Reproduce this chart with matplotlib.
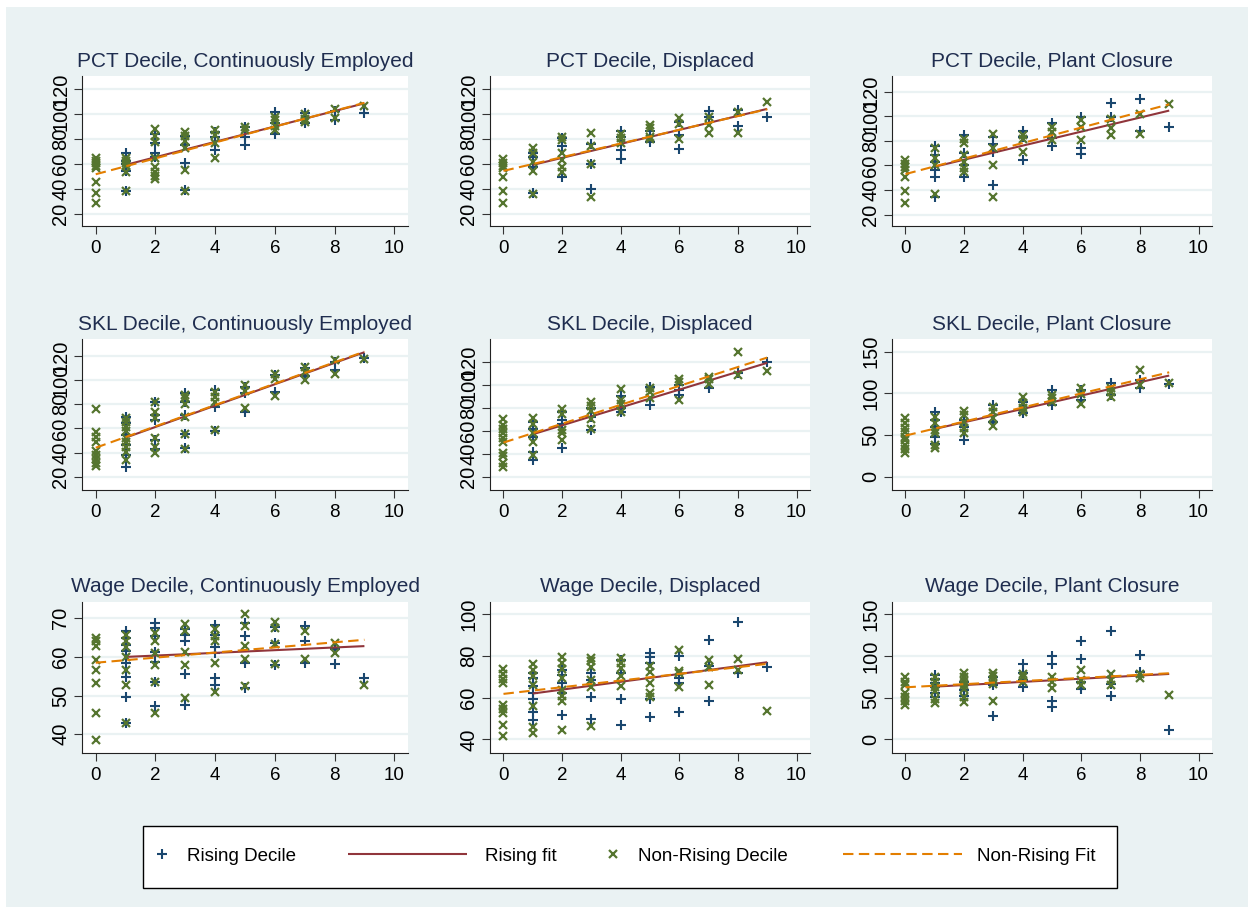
import numpy as np
import matplotlib
matplotlib.use("Agg")
import matplotlib.pyplot as plt
from matplotlib.lines import Line2D
from matplotlib.patches import Rectangle

plt.rcParams['font.family'] = ['Liberation Sans', 'DejaVu Sans']

# ---------------- data ----------------
titles = ["PCT Decile, Continuously Employed", "PCT Decile, Displaced", "PCT Decile, Plant Closure",
          "SKL Decile, Continuously Employed", "SKL Decile, Displaced", "SKL Decile, Plant Closure",
          "Wage Decile, Continuously Employed", "Wage Decile, Displaced", "Wage Decile, Plant Closure"]

x_ticks = [0, 2, 4, 6, 8, 10]

# y values grouped by decile (list index = decile 0..9)
pct_ce_rising = [[], [69, 63, 60, 55, 39], [84, 77, 69, 66], [83, 75.5, 61, 39.5], [86, 82, 71.5],
                 [90, 82, 75.5], [102, 92.8, 84.3], [101, 93], [102.7, 95.5], [101.3]]
pct_ce_nonrising = [[64.8, 63, 61, 59, 57, 46, 37, 29], [65, 63, 61, 59, 54, 39], [88, 83, 78, 65, 58, 54, 51, 48],
                    [86, 83, 79, 72.8, 55.5, 39], [87.5, 83.5, 77, 65], [89.6, 87.5], [98, 95.5, 90.7, 87.5],
                    [100, 96, 94], [104, 96.8], [107]]

pct_d_rising = [[], [68.8, 65.6, 58, 36.8], [81.3, 74.7, 50], [76, 60, 40], [87, 82, 71.5, 64.3], [87, 78],
                [94, 83.5, 72], [103, 98], [103.5, 90.7], [98]]
pct_d_nonrising = [[64.3, 60.8, 58.7, 56.8, 50, 39, 28.8], [72.8, 68.8, 62, 55, 36.3], [82, 79.5, 68.8, 63.5, 58, 54],
                   [85.3, 74.7, 60, 34], [84, 80.8, 76.8], [91.5, 88.8, 82, 80], [96.8, 92.3, 80], [98, 91.5, 84.8],
                   [102, 85.3], [110]]

pct_pc_rising = [[], [75.8, 68.5, 63, 56.3, 50.9, 34.6], [84.8, 69.9, 60.4, 50.9], [83.4, 77.5, 71.2, 44.1],
                 [88.3, 83.4, 64.4], [94.8, 82, 75.8], [99.7, 74, 69.3], [110.5, 99.7], [113.8, 88.3], [91]]
pct_pc_nonrising = [[64.4, 61.2, 58.5, 56.3, 50.4, 39.2, 29.2], [74, 65.8, 60.4, 36.8], [81.2, 78, 68.5, 63, 57.7, 55],
                    [85.6, 74, 60.4, 34.6], [84.8, 81.2, 71.2], [91, 87.5, 80.7], [97, 91, 80.7], [97.5, 90.2, 84.8],
                    [101.8, 85.6], [110]]

skl_ce_rising = [[], [69.7, 64.2, 54.5, 46.2, 38, 28.3], [82.2, 71.1, 67, 50.4, 43], [89, 82.2, 71.1, 55, 43.5],
                 [91.8, 78, 57.8], [94.6, 89, 73.3], [104.3, 90.4], [109.8, 103.7], [114.8, 108.4], [118]]
skl_ce_nonrising = [[76, 57, 53, 49, 41, 38, 35, 31, 29], [68.3, 65.6, 61.4, 57.8, 52.3, 49, 44.9, 40.7, 33.8],
                    [82.2, 73.9, 68.3, 51.8, 44.9, 39.3], [87.7, 84.9, 80, 69.7, 55, 43], [89.9, 86.3, 82.2, 58.7],
                    [96, 91, 77.2], [104.8, 101, 87.1], [111, 107, 100], [116.7, 104.8], [117.5]]

skl_d_rising = [[], [68.1, 61.8, 55.2, 42.2, 35], [76.8, 69.6, 65.8, 45.6], [79.7, 72.5, 61], [90.6, 79.7, 76.8],
                [98.4, 82.5], [100, 95.5, 91.2], [97], [110], [119.4]]
skl_d_nonrising = [[70.4, 65.2, 61.8, 58, 54.3, 50.3, 40.7, 38.7, 32, 29.2], [71, 65.8, 58, 50.8, 39.3],
                   [79, 74.5, 61, 58, 52.3], [85.4, 82, 77.3, 70.4, 61.8], [96.4, 86.9, 83, 76.8], [97, 93.5, 88.3],
                   [105, 102.1, 86.9], [107, 105, 100.4], [128.6, 108.5], [111.9]]

skl_pc_rising = [[], [77.2, 68, 60, 48, 38.8], [68, 60, 44], [86, 65.2], [90, 76], [104, 86], [104, 92],
                 [112, 98], [116, 106], [110.8]]
skl_pc_nonrising = [[70, 64, 58.8, 54, 48, 44, 38, 33.2, 28], [72, 64, 56, 52, 38, 34.8], [78.8, 74, 66, 58, 52],
                    [84, 78, 70, 61.2], [96, 88, 82, 78], [98, 94, 89.2], [106, 98.8, 86.8], [106, 101.2, 96],
                    [128, 110], [112]]

wage_ce_rising = [[], [66.8, 64.8, 63.1, 61.6, 58.5, 54.7, 49.7, 43], [68.7, 67.4, 65.3, 61.4, 58.8, 53.6, 47.2],
                  [67.2, 65.7, 64, 55.6, 47.6], [68.3, 65.7, 62.5, 61.1, 54.5, 52.8], [68.9, 65.4, 58.4, 51.9],
                  [67.8, 63.7, 57.9], [68, 64, 58.5], [62, 58.2], [54.5]]
wage_ce_nonrising = [[64.8, 64.2, 62.7, 59.2, 56.6, 53.2, 45.6, 38.5], [65.7, 64, 62.5, 60, 56.6, 52.8, 43],
                     [66.1, 64, 61.1, 57.9, 53.4, 45.6], [68.5, 66.6, 61.4, 57.9, 49.3], [67.2, 65.4, 64.2, 58.5, 51],
                     [71.1, 68, 62.8, 59.4, 52.5], [69.1, 67.4, 63.4, 58.2], [66.6, 59.4], [63.5, 60.9], [52.8]]

wage_d_rising = [[], [71.7, 69.3, 65.6, 62, 59.2, 53.3, 49.3], [73.3, 70.9, 66.9, 62, 51.7], [72, 68.5, 60.2, 49.6],
                 [78.1, 71.7, 59.2, 46.9], [81.6, 79.4, 76.8, 59.2, 50.9], [80, 69.3, 66.9, 53.3], [87.7, 75.2, 58.6],
                 [96.5, 71.7], [74.9]]
wage_d_nonrising = [[73.6, 71.4, 68.8, 66.9, 56.5, 54.4, 52.8, 46.9, 41.8], [76.2, 73.3, 70.4, 66.1, 56, 45.8, 43.2],
                    [79.4, 76.5, 73.6, 69.3, 63.7, 60.8, 58.6, 44.5], [78.9, 77.8, 74.9, 68.5, 65, 46.4],
                    [78.9, 76.5, 74.1, 70.4, 65.6], [75.2, 72.5, 66.9, 62.4, 60.5], [82.9, 73, 71.7, 65],
                    [78.1, 74.6, 66.1], [78.4, 73.3], [53.6]]

wage_pc_rising = [[], [77.2, 72, 67.2, 62.4, 56, 51.2], [69.2, 65.2, 59.2, 52], [74.4, 65.2, 28],
                  [90.4, 79.2, 71.2, 62.4], [100, 90.4, 46.4, 39.2], [118.4, 96, 69.2, 60], [130.4, 66.4, 52],
                  [101.2, 81.2], [11.2]]
wage_pc_nonrising = [[74.4, 69.2, 65.2, 56, 51.2, 46.4, 41.2], [75.2, 69.2, 63.2, 58.4, 48, 43.2],
                     [80, 75.2, 70.4, 65.2, 60, 50.4, 45.2], [80, 76, 71.2, 66.4, 46.4], [78.4, 74.4, 69.2],
                     [75.2, 69.2, 61.2], [83.2, 71.2, 65.2], [78.4, 71.2, 65.2], [78.4, 73.2], [53.2]]

# linear fit lines (intercept, slope), rising over deciles 1-9, non-rising over 0-9
rising_fit_intercept = [53.3, 53.9, 53.3, 43.5, 49.5, 49.2, 59.65, 60.1, 61.3]
rising_fit_slope = [6.16, 5.6, 5.7, 8.84, 7.72, 8.0, 0.35, 1.875, 1.9]
nonrising_fit_intercept = [52.0, 54.7, 53.0, 44.0, 50.0, 49.2, 58.5, 61.8, 62.4]
nonrising_fit_slope = [6.35, 5.48, 6.3, 8.84, 8.17, 8.43, 0.66, 1.6, 1.87]
rising_fit_range = [1, 9]
nonrising_fit_range = [0, 9]

y_ticks = [[20, 40, 60, 80, 100, 120]] * 5 + [[0, 50, 100, 150], [40, 50, 60, 70], [40, 60, 80, 100], [0, 50, 100, 150]]
y_limits = [(10.6, 130.6), (10.6, 130.6), (10.8, 132.7), (9, 134), (9, 139.6), (-16, 165),
            (35.2, 74.3), (33.6, 106), (-16, 165)]

rising_sets = [pct_ce_rising, pct_d_rising, pct_pc_rising, skl_ce_rising, skl_d_rising, skl_pc_rising,
               wage_ce_rising, wage_d_rising, wage_pc_rising]
nonrising_sets = [pct_ce_nonrising, pct_d_nonrising, pct_pc_nonrising, skl_ce_nonrising, skl_d_nonrising,
                  skl_pc_nonrising, wage_ce_nonrising, wage_d_nonrising, wage_pc_nonrising]

legend_labels = ["Rising Decile", "Rising fit", "Non-Rising Decile", "Non-Rising Fit"]

# ---------------- style ----------------
NAVY = "#1a476f"
MAROON = "#90353b"
GREEN = "#55752f"
ORANGE = "#e37e00"
BG = "#eaf2f3"
TITLE_C = "#1f2d4f"

W, H = 1254, 914
fig = plt.figure(figsize=(W / 100, H / 100), dpi=100)
fig.patch.set_facecolor("white")
fig.add_artist(Rectangle((6 / W, 7 / H), (W - 12) / W, (H - 14) / H, transform=fig.transFigure,
                         facecolor=BG, edgecolor="none", zorder=-10))

col_left = [82, 490, 892]
col_width = [326, 320, 320]
row_top = [76, 339, 601.7]
row_height = [150, 151, 151]

plus_kw = dict(ls="none", marker="+", color=NAVY, ms=7.2, mew=1.5)
x_kw = dict(ls="none", marker="x", color=GREEN, ms=5.6, mew=1.6)
rfit_kw = dict(color=MAROON, lw=1.5, solid_capstyle="butt")
nfit_kw = dict(color=ORANGE, lw=1.5, dashes=(5, 2.6), dash_capstyle="butt")


def flatten(groups):
    xs, ys = [], []
    for d, vals in enumerate(groups):
        for v in vals:
            xs.append(d)
            ys.append(v)
    return np.array(xs), np.array(ys)


for i in range(9):
    r, c = divmod(i, 3)
    left = col_left[c] / W
    bottom = (H - row_top[r] - row_height[r]) / H
    ax = fig.add_axes([left, bottom, col_width[c] / W, row_height[r] / H])
    ax.set_facecolor("white")

    xr, yr = flatten(rising_sets[i])
    xn, yn = flatten(nonrising_sets[i])
    ax.plot(xr, yr, zorder=3, **plus_kw)
    xfr = np.array(rising_fit_range, dtype=float)
    ax.plot(xfr, rising_fit_intercept[i] + rising_fit_slope[i] * xfr, zorder=4, **rfit_kw)
    ax.plot(xn, yn, zorder=5, **x_kw)
    xfn = np.array(nonrising_fit_range, dtype=float)
    ax.plot(xfn, nonrising_fit_intercept[i] + nonrising_fit_slope[i] * xfn, zorder=6, **nfit_kw)

    ax.set_xlim(-0.46, 10.46)
    ax.set_ylim(*y_limits[i])
    ax.set_xticks(x_ticks)
    ax.set_yticks(y_ticks[i])
    ax.yaxis.grid(True, color=BG, lw=1.6)
    ax.set_axisbelow(True)
    for s in ("top", "right"):
        ax.spines[s].set_visible(False)
    for s in ("left", "bottom"):
        ax.spines[s].set_color("#222222")
        ax.spines[s].set_linewidth(0.8)
    ax.tick_params(axis="both", direction="out", length=5.8, width=0.8, color="#333333",
                   labelcolor="black")
    ax.tick_params(axis="x", pad=4.5, labelsize=13.5)
    ax.tick_params(axis="y", pad=2.5, labelrotation=90, labelsize=14.5)
    for lab in ax.get_yticklabels():
        lab.set_va("center")
    ax.text(0.5, 1 + 9.5 / row_height[r], titles[i], transform=ax.transAxes, ha="center", va="baseline",
            fontsize=15, color=TITLE_C)

# legend box
fig.add_artist(Rectangle((143 / W, (H - 888) / H), (1117 - 143) / W, 62 / H, transform=fig.transFigure,
                         facecolor="white", edgecolor="black", lw=1.0, zorder=1))

leg_y = (H - 856) / H
handles = [Line2D([], [], **plus_kw), Line2D([], [], **rfit_kw), Line2D([], [], **x_kw), Line2D([], [], **nfit_kw)]
leg_x = [152.5, 348, 603.5, 843]
hlen = [1.0, 6.35, 1.0, 6.35]
hpad = [0.85, 0.95, 0.85, 0.8]
for k in range(4):
    lg = fig.legend([handles[k]], [legend_labels[k]], loc="center left", bbox_to_anchor=(leg_x[k] / W, leg_y),
                    frameon=False, fontsize=13.5, handlelength=hlen[k], handletextpad=hpad[k],
                    borderpad=0, borderaxespad=0)
    lg.set_zorder(5)

fig.savefig("out.png", dpi=100, facecolor=fig.get_facecolor())
